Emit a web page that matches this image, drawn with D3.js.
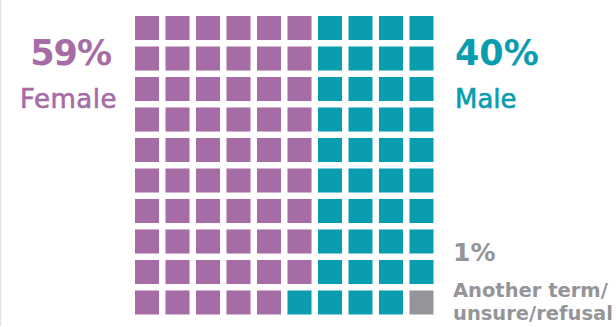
<!DOCTYPE html>
<html><head><meta charset="utf-8">
<script src="https://cdn.jsdelivr.net/npm/d3@7"></script>
<style>html,body{margin:0;padding:0;background:#fff;overflow:hidden}</style>
</head><body>
<svg id="c" width="616" height="327"></svg>
<script>
const categories = ["Female", "Male", "Another term/unsure/refusal"];
const values = [59, 40, 1];
const colors = ["#a66ca5", "#0a9db0", "#949598"];
const labels = ["59%", "40%", "1%"];

const svg = d3.select("#c");
const font = "'DejaVu Sans', sans-serif";

svg.append("line").attr("x1",0.5).attr("x2",0.5).attr("y1",0).attr("y2",326)
  .attr("stroke","#ecdff0").attr("stroke-width",1.5);

const cells = [];
values.forEach((v,i)=>{ for(let k=0;k<v;k++) cells.push(i); });
const cols = d3.range(10), rows = d3.range(10);
const x = d3.scaleBand().domain(cols).range([135, 433.5]).paddingInner(0.212).paddingOuter(0);
const y = d3.scaleBand().domain(rows).range([16, 314.5]).paddingInner(0.212).paddingOuter(0);
svg.append("g").selectAll("rect").data(cells).join("rect")
  .attr("x",(d,i)=>x(Math.floor(i/10)))
  .attr("y",(d,i)=>y(i%10))
  .attr("width",x.bandwidth()).attr("height",y.bandwidth())
  .attr("fill",d=>colors[d]);

const t = svg.append("g").attr("font-family",font);
t.append("text").attr("x",111).attr("y",65).attr("text-anchor","end")
  .attr("font-size",35).attr("font-weight",700).attr("letter-spacing",-1)
  .attr("fill",colors[0]).text(labels[0]);
t.append("text").attr("x",117).attr("y",108).attr("text-anchor","end")
  .attr("font-size",26).attr("font-weight",400).attr("letter-spacing",0.5)
  .attr("stroke",colors[0]).attr("stroke-width",0.6)
  .attr("fill",colors[0]).text(categories[0]);
t.append("text").attr("x",455).attr("y",65)
  .attr("font-size",35).attr("font-weight",700).attr("fill",colors[1]).text(labels[1]);
t.append("text").attr("x",455).attr("y",108)
  .attr("font-size",26).attr("font-weight",400)
  .attr("stroke",colors[1]).attr("stroke-width",0.6)
  .attr("fill",colors[1]).text(categories[1]);
t.append("text").attr("x",453).attr("y",261)
  .attr("font-size",25).attr("font-weight",700).attr("fill",colors[2]).text(labels[2]);
const parts = ["Another term/", "unsure/refusal"];
parts.forEach((p,i)=>t.append("text").attr("x",453).attr("y",297+i*23)
  .attr("font-size",19.5).attr("font-weight",700).attr("fill",colors[2]).text(p));
</script>
</body></html>
